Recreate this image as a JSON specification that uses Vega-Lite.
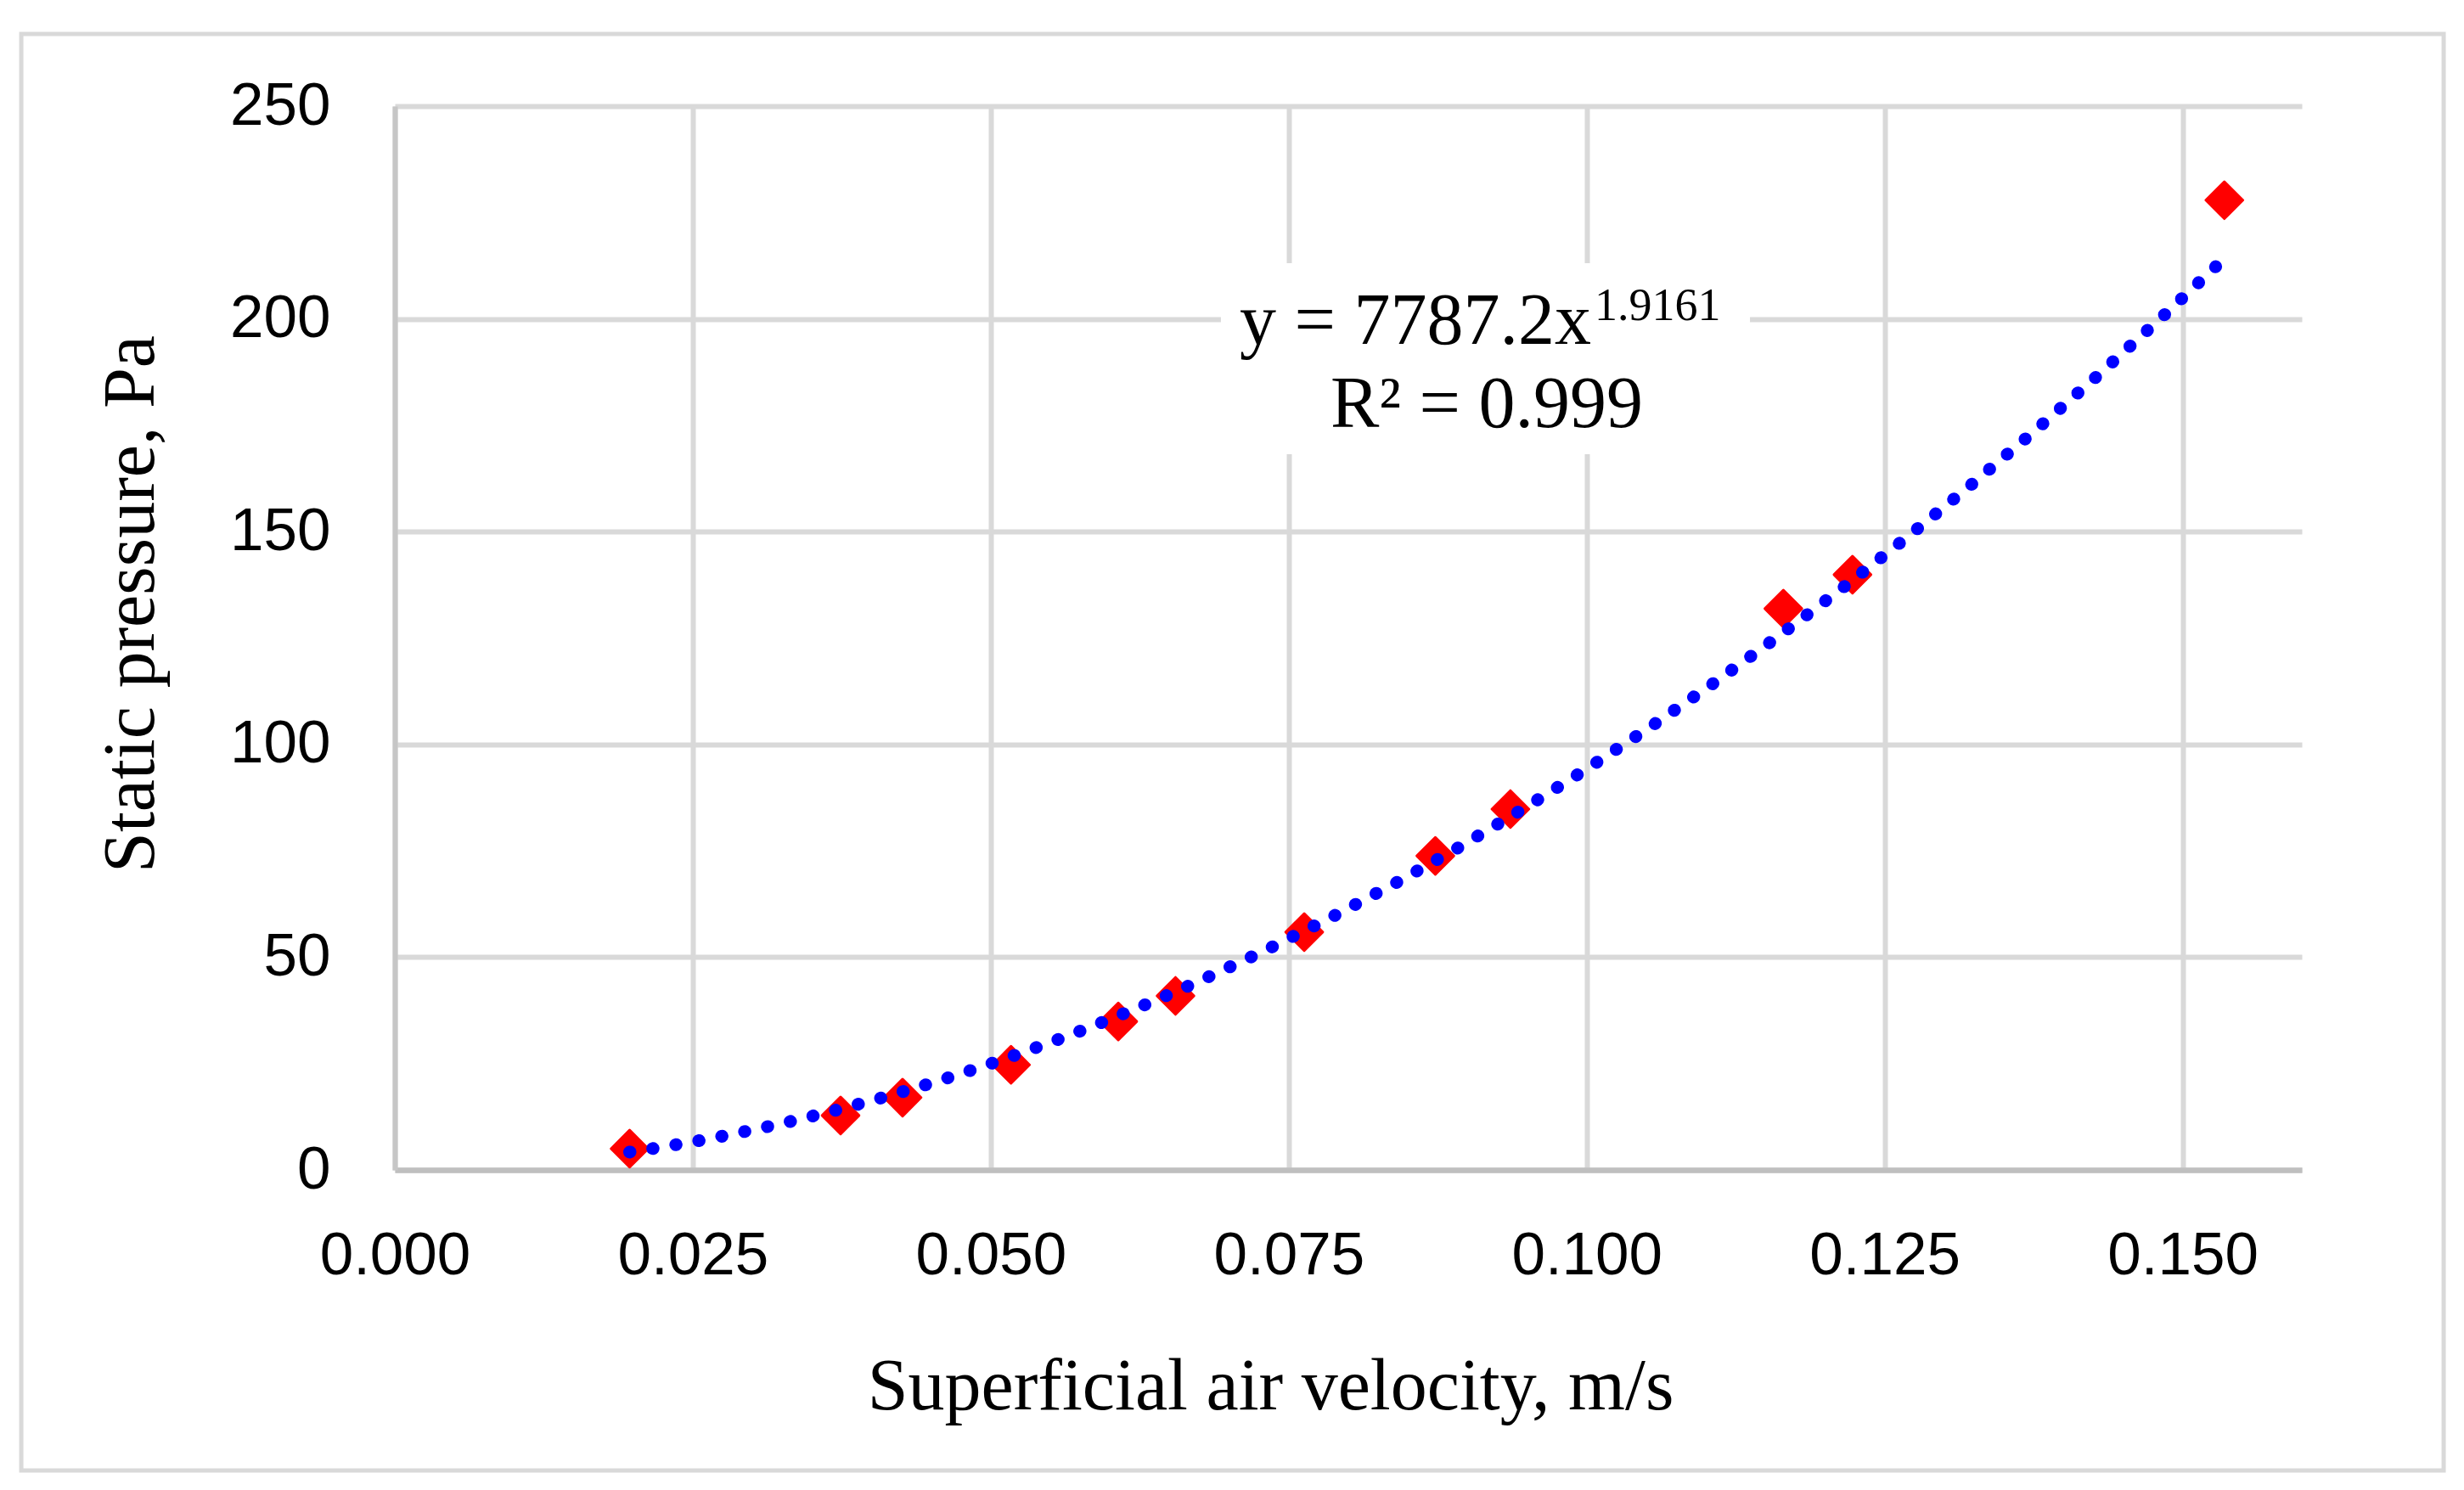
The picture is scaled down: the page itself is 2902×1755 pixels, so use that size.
{
  "$schema": "https://vega.github.io/schema/vega-lite/v6.json",
  "width": 2246,
  "height": 1253,
  "autosize": {"type": "none"},
  "padding": {"left": 465, "top": 125, "right": 191, "bottom": 377},
  "background": "white",
  "config": {"view": {"stroke": null}, "font": "Liberation Sans"},
  "datasets": {
    "measured": [
      {"velocity": 0.0197, "pressure": 5.0},
      {"velocity": 0.0374, "pressure": 12.8},
      {"velocity": 0.0426, "pressure": 17.0},
      {"velocity": 0.0517, "pressure": 24.7},
      {"velocity": 0.0607, "pressure": 34.9},
      {"velocity": 0.0655, "pressure": 40.9},
      {"velocity": 0.0763, "pressure": 55.9},
      {"velocity": 0.0873, "pressure": 73.8},
      {"velocity": 0.0936, "pressure": 84.8},
      {"velocity": 0.1165, "pressure": 131.9},
      {"velocity": 0.1223, "pressure": 139.9},
      {"velocity": 0.1535, "pressure": 227.9}
    ]
  },
  "layer": [
    {
      "data": {"values": [{}]},
      "mark": {"type": "rect", "fill": "transparent", "stroke": "#d9d9d9", "strokeWidth": 5},
      "encoding": {
        "x": {"datum": -0.03134, "type": "quantitative"},
        "x2": {"datum": 0.1719},
        "y": {"datum": 266.96, "type": "quantitative"},
        "y2": {"datum": -70.63}
      }
    },
    {
      "data": {"values": [{}]},
      "mark": {"type": "rect", "fill": "white", "stroke": null},
      "encoding": {
        "x": {"datum": 0.06931, "type": "quantitative"},
        "x2": {"datum": 0.1137},
        "y": {"datum": 213.1, "type": "quantitative"},
        "y2": {"datum": 168.2}
      }
    },
    {
      "data": {"name": "measured"},
      "mark": {"type": "point", "shape": "diamond", "filled": true, "color": "#ff0000", "size": 1900, "stroke": "#ff0000", "strokeWidth": 3, "strokeJoin": "round", "opacity": 1},
      "encoding": {
        "x": {
          "field": "velocity",
          "type": "quantitative",
          "scale": {"domain": [0, 0.16], "nice": false, "zero": false},
          "axis": {
            "values": [0, 0.025, 0.05, 0.075, 0.1, 0.125, 0.15],
            "format": ".3f",
            "title": "Superficial air velocity, m/s",
            "grid": true,
            "gridColor": "#d9d9d9",
            "gridWidth": 6,
            "domainColor": "#bfbfbf",
            "domainWidth": 6.5,
            "ticks": false,
            "labelFont": "Liberation Sans",
            "labelFontSize": 71,
            "labelColor": "#000000",
            "labelPadding": 66,
            "labelFlush": false,
            "labelOverlap": false,
            "titleFont": "Liberation Serif",
            "titleFontSize": 86,
            "titleFontWeight": "normal",
            "titleColor": "#000000",
            "titleX": 1031,
            "titleY": 281,
            "titleAlign": "center",
            "titleBaseline": "alphabetic"
          }
        },
        "y": {
          "field": "pressure",
          "type": "quantitative",
          "scale": {"domain": [0, 250], "nice": false, "zero": false},
          "axis": {
            "values": [0, 50, 100, 150, 200, 250],
            "title": "Static pressure, Pa",
            "grid": true,
            "gridColor": "#d9d9d9",
            "gridWidth": 6,
            "domainColor": "#c6c6c6",
            "domainWidth": 6,
            "ticks": false,
            "labelFont": "Liberation Sans",
            "labelFontSize": 71,
            "labelColor": "#000000",
            "labelPadding": 76,
            "labelFlush": false,
            "labelOverlap": false,
            "titleFont": "Liberation Serif",
            "titleFontSize": 86,
            "titleFontWeight": "normal",
            "titleColor": "#000000",
            "titleAngle": -90,
            "titleX": -285,
            "titleY": 586,
            "titleAlign": "center",
            "titleBaseline": "alphabetic"
          }
        }
      }
    },
    {
      "data": {"name": "measured"},
      "transform": [{"regression": "pressure", "on": "velocity", "method": "pow"}],
      "mark": {"type": "line", "color": "#0000ff", "strokeWidth": 15, "strokeCap": "round", "strokeDash": [0.5, 27]},
      "encoding": {
        "x": {"field": "velocity", "type": "quantitative"},
        "y": {"field": "pressure", "type": "quantitative"}
      }
    },
    {
      "data": {"values": [{}]},
      "mark": {"type": "text", "text": "y = 7787.2x", "font": "Liberation Serif", "fontSize": 86, "color": "#000000", "align": "left", "baseline": "alphabetic"},
      "encoding": {
        "x": {"datum": 0.070882, "type": "quantitative"},
        "y": {"datum": 194.13, "type": "quantitative"}
      }
    },
    {
      "data": {"values": [{}]},
      "mark": {"type": "text", "text": "1.9161", "font": "Liberation Serif", "fontSize": 54, "color": "#000000", "align": "left", "baseline": "alphabetic"},
      "encoding": {
        "x": {"datum": 0.10066, "type": "quantitative"},
        "y": {"datum": 199.72, "type": "quantitative"}
      }
    },
    {
      "data": {"values": [{}]},
      "mark": {"type": "text", "text": "R² = 0.999", "font": "Liberation Serif", "fontSize": 86, "color": "#000000", "align": "center", "baseline": "alphabetic"},
      "encoding": {
        "x": {"datum": 0.091612, "type": "quantitative"},
        "y": {"datum": 174.58, "type": "quantitative"}
      }
    }
  ]
}
